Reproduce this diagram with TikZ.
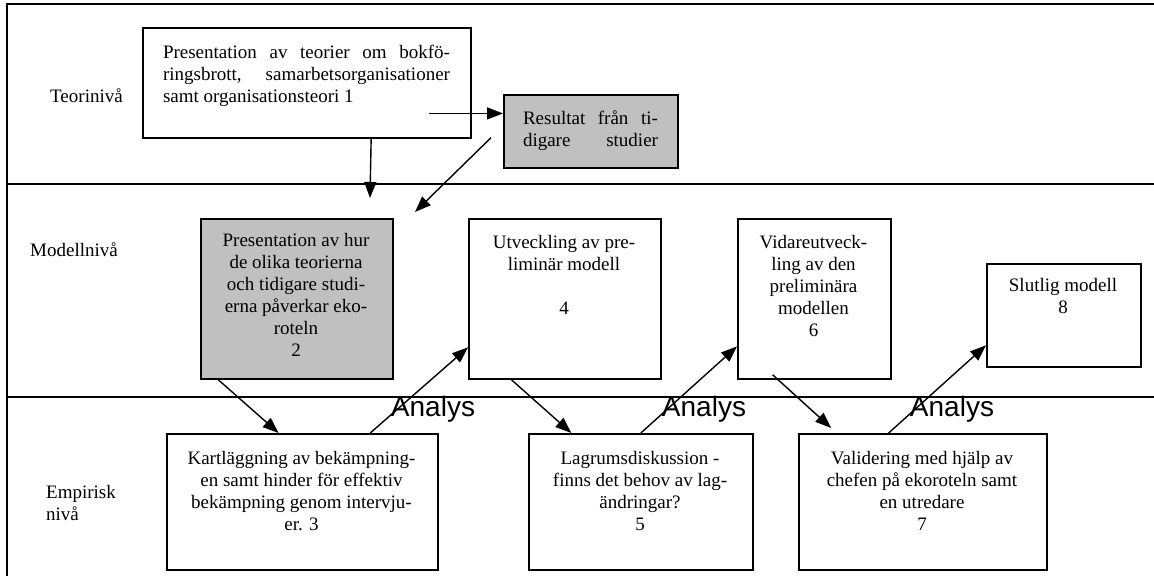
\documentclass[tikz,border=0pt]{standalone}
\usepackage{fontspec}
\setmainfont{Liberation Serif}
\newfontfamily\labelsans{Liberation Sans}
\usetikzlibrary{arrows.meta,calc}
\definecolor{boxgrey}{RGB}{192,192,192}

\tikzset{
  box/.style={draw=black, line width=1.7pt, fill=white, inner sep=0pt, anchor=north west},
  greybox/.style={box, fill=boxgrey},
  txt/.style={anchor=base, inner sep=0pt, font=\fontsize{19}{22}\selectfont},
  lvl/.style={anchor=base west, inner sep=0pt, font=\fontsize{19}{22}\selectfont},
  arr/.style={line width=1.4pt, -{Triangle[length=16pt,width=12pt]}},
  analys/.style={anchor=base, inner sep=0pt, font=\labelsans\fontsize{28}{30}\selectfont},
  frameline/.style={line width=1.7pt},
}

\begin{document}
\begin{tikzpicture}[x=1pt, y=-1pt]
\useasboundingbox (0,0) rectangle (1154,576);

% level frame
\draw[frameline] (7,576) -- (7,4) -- (1154,4);
\draw[frameline] (7,184) -- (1154,184);
\draw[frameline] (7,397) -- (1154,397);

% level labels
\node[lvl] (lteori) at (50,102) {Teorinivå};
\node[lvl] (lmodell) at (30,256) {Modellnivå};
\node[lvl] (lemp) at (46,498) {\parbox[t]{80pt}{Empirisk\\nivå}};

% boxes
\node[box, minimum width=328pt, minimum height=110pt] (b1) at (142,27) {};
\node[greybox, minimum width=174pt, minimum height=73pt] (res) at (503,94) {};
\node[greybox, minimum width=192pt, minimum height=160pt] (b2) at (200,218) {};
\node[box, minimum width=192pt, minimum height=160pt] (b4) at (468,218) {};
\node[box, minimum width=153pt, minimum height=160pt] (b6) at (737,218) {};
\node[box, minimum width=154pt, minimum height=103pt] (b8) at (986,263) {};
\node[box, minimum width=271pt, minimum height=136pt] (b3) at (166,433) {};
\node[box, minimum width=224pt, minimum height=136pt] (b5) at (528,433) {};
\node[box, minimum width=248pt, minimum height=136pt] (b7) at (798,433) {};

% box texts
\node[txt] (t1) at (306.5,58) {\parbox[t]{287pt}{%
  \makebox[\linewidth][s]{Presentation av teorier om bokfö-}\\
  \makebox[\linewidth][s]{ringsbrott, samarbetsorganisationer}\\
  samt organisationsteori 1}};
\node[txt] (tres) at (590.5,124) {\parbox[t]{135pt}{%
  \makebox[\linewidth][s]{Resultat från ti-}\\
  \makebox[\linewidth][s]{digare studier}}};
\node[txt] (t2) at (296,246) {\parbox[t]{182pt}{\centering
  Presentation av hur\\de olika teorierna\\och tidigare studi-\\erna påverkar eko-\\roteln\\2}};
\node[txt] (t4) at (564,248) {\parbox[t]{182pt}{\centering
  Utveckling av pre-\\liminär modell\\\mbox{}\\4}};
\node[txt] (t6) at (813.5,248) {\parbox[t]{145pt}{\centering
  Vidareutveck-\\ling av den\\preliminära\\modellen\\6}};
\node[txt] (t8) at (1063,291) {\parbox[t]{145pt}{\centering
  Slutlig modell\\8}};
\node[txt] (t3) at (301.5,464) {\parbox[t]{262pt}{\centering
  Kartläggning av bekämpning-\\en samt hinder för effektiv\\bekämpning genom intervju-\\er. 3}};
\node[txt] (t5) at (640,464) {\parbox[t]{215pt}{\centering
  Lagrumsdiskussion -\\finns det behov av lag-\\ändringar?\\5}};
\node[txt] (t7) at (922,464) {\parbox[t]{240pt}{\centering
  Validering med hjälp av\\chefen på ekoroteln samt\\en utredare\\7}};

% connectors
\coordinate (a1end) at ($(res.north west)!0.26!(res.south west)$);
\coordinate (a1start) at ($(a1end)+(-74,0)$);
\coordinate (tip1) at (370,198);
\coordinate (a3start) at ($(res.south west)+(-12,-31)$);
\coordinate (tip2) at (415,212);
\draw[arr] (a1start) -- (a1end);
\draw[arr] ($(b1.south west)!0.695!(b1.south east)$) -- (tip1);
\draw[arr] (a3start) -- (tip2);
\draw[arr] ($(b2.south west)!0.094!(b2.south east)$) -- ($(b3.north west)!0.413!(b3.north east)$);
\draw[arr] ($(b3.north west)!0.749!(b3.north east)$) -- ($(b4.north west)!0.8!(b4.south west)$);
\draw[arr] ($(b4.south west)!0.224!(b4.south east)$) -- ($(b5.north west)!0.192!(b5.north east)$);
\draw[arr] (b5.north) -- ($(b6.north west)!0.794!(b6.south west)$);
\draw[arr] ($(b6.south west)!0.23!(b6.south east)+(0,-5)$) -- ($(b7.north west)!0.133!(b7.north east)+(0,-5)$);
\draw[arr] ($(b7.north west)!0.363!(b7.north east)$) -- ($(b8.north west)!0.786!(b8.south west)$);

% analysis labels
\node[analys] (an1) at (433,416) {Analys};
\node[analys] (an2) at (704,416) {Analys};
\node[analys] (an3) at (952,416) {Analys};
\end{tikzpicture}
\end{document}
